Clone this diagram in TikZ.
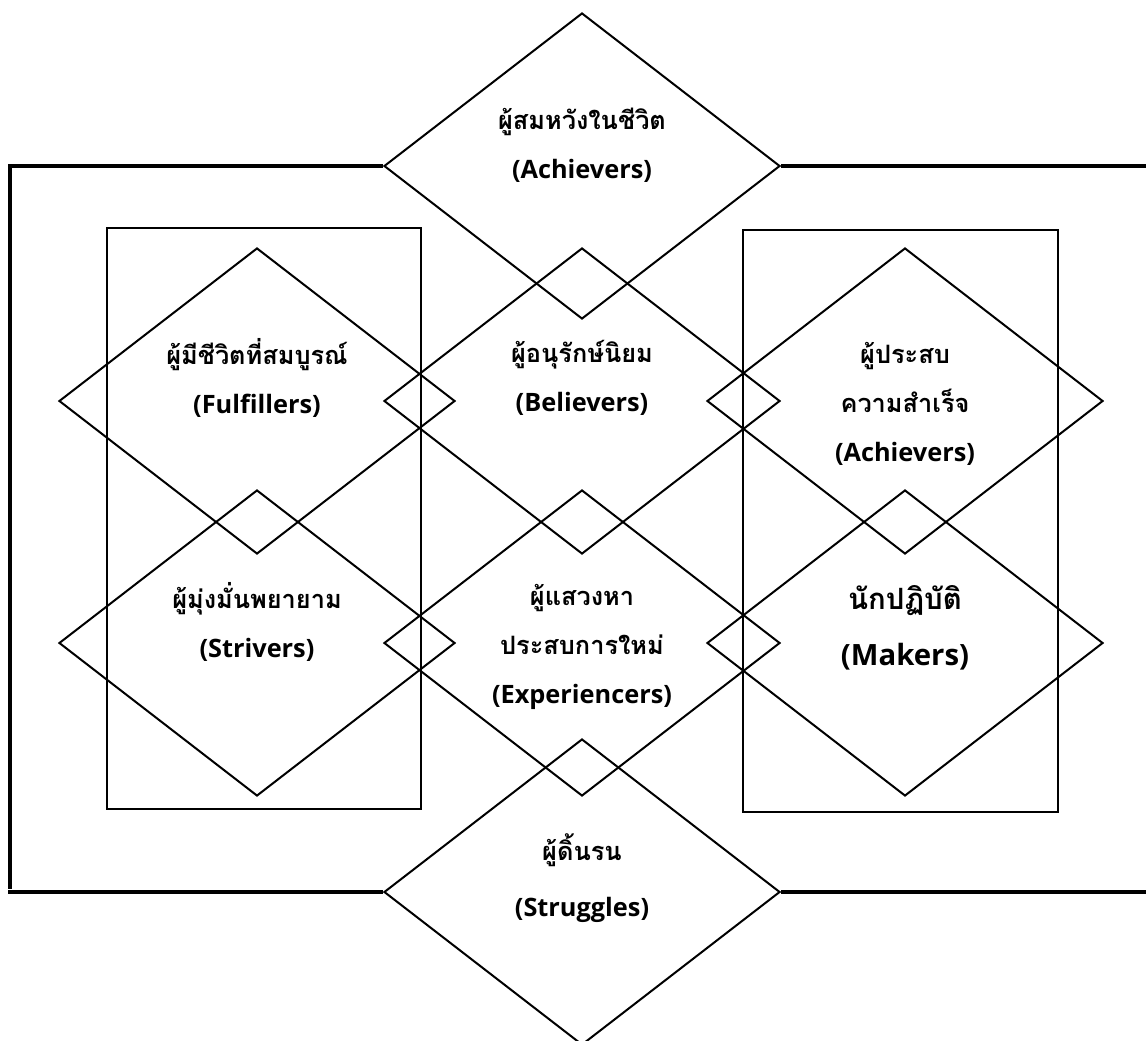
\documentclass[tikz,border=0pt]{standalone}
\usepackage{fontspec}
\setmainfont{Open Sans}
\newfontfamily\thai[Script=Thai]{Loma}
\usetikzlibrary{shapes.geometric}
\tikzset{
  dia/.style={diamond, draw, line width=1.5pt, inner sep=0pt,
    minimum width=297pt, minimum height=229.5pt},
  frameline/.style={line width=3.4pt},
  box/.style={draw, line width=2pt, inner sep=0pt},
  lbl/.style={align=center, font=\fontsize{19}{36.5}\selectfont\bfseries, inner sep=0pt},
  biglbl/.style={align=center, font=\fontsize{22}{42}\selectfont\bfseries, inner sep=0pt},
}
\begin{document}
\begin{tikzpicture}[x=0.75pt,y=-0.75pt]
\useasboundingbox (0,0) rectangle (1146,1041);
% outer frame
\coordinate (ftl) at (10,166);
\coordinate (fbl) at (10,889);
\coordinate (ftr) at (1146,166);
\coordinate (fbr) at (1146,892);
\coordinate (fbl2) at (8,892);
% inner rectangles
\node[box, minimum width=235.5pt, minimum height=435.75pt] (lrect) at (264,518.5) {};
\node[box, minimum width=236.25pt, minimum height=436.5pt] (rrect) at (900.5,521) {};
% diamonds
\node[dia] (dtop) at (582,166) {};
\node[dia] (dful) at (257,401) {};
\node[dia] (dbel) at (582,401) {};
\node[dia] (dach) at (905,401) {};
\node[dia] (dstr) at (257,643) {};
\node[dia] (dexp) at (582,643) {};
\node[dia] (dmak) at (905,643) {};
\node[dia] (dstg) at (582,892) {};
% frame lines
\draw[frameline] (dtop.west) -- (ftl) -- (fbl);
\draw[frameline] (dtop.east) -- (ftr);
\draw[frameline] (dstg.west) -- (fbl2);
\draw[frameline] (dstg.east) -- (fbr);
% labels
\node[lbl] (ttop) at (582,145) {{\thai ผู้สมหวังในชีวิต}\\(Achievers)};
\node[lbl] (tful) at (257,378) {{\thai ผู้มีชีวิตที่สมบูรณ์}\\(Fulfillers)};
\node[lbl] (tbel) at (582,378) {{\thai ผู้อนุรักษ์นิยม}\\(Believers)};
\node[lbl] (tach) at (905,404) {{\thai ผู้ประสบ}\\{\thai ความสำเร็จ}\\(Achievers)};
\node[lbl] (tstr) at (257,622) {{\thai ผู้มุ่งมั่นพยายาม}\\(Strivers)};
\node[lbl] (texp) at (582,647) {{\thai ผู้แสวงหา}\\{\thai ประสบการใหม่}\\(Experiencers)};
\node[biglbl] (tmak) at (905,628) {{\thai นักปฏิบัติ}\\(Makers)};
\node[lbl, font=\fontsize{19}{42}\selectfont\bfseries] (tstg) at (582,878) {{\thai ผู้ดิ้นรน}\\(Struggles)};
\end{tikzpicture}
\end{document}
